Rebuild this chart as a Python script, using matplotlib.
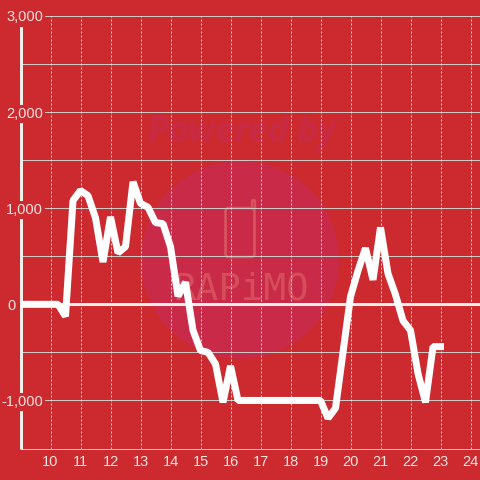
import matplotlib
matplotlib.use("Agg")
import matplotlib.pyplot as plt
from matplotlib.patches import Circle, FancyBboxPatch

hours = [9, 10, 10.25, 10.5, 10.75, 11, 11.25, 11.5, 11.75, 12, 12.25, 12.5, 12.75, 13, 13.25, 13.5,
         13.75, 14, 14.25, 14.5, 14.75, 15, 15.25, 15.5, 15.75, 16, 16.25, 19, 19.25, 19.5, 19.75,
         20, 20.25, 20.5, 20.75, 21, 21.25, 21.5, 21.75, 22, 22.25, 22.5, 22.75, 23]
values = [0, 0, 0, -125, 1080, 1185, 1130, 900, 440, 910, 535, 600, 1275, 1050, 1010, 850,
          840, 600, 85, 230, -270, -480, -500, -620, -1020, -640, -1000, -1000, -1185, -1080, -500,
          80, 350, 585, 255, 800, 320, 100, -170, -270, -720, -1020, -440, -440]
x_ticks = list(range(10, 25))
y_ticks = [-1000, 0, 1000, 2000, 3000]
y_labels = ["-1,000", "0", "1,000", "2,000", "3,000"]
y_grid = [-1000, -500, 0, 500, 1000, 1500, 2000, 2500, 3000]
watermark_top = "Powered by"
watermark_name = "RAPiMO"

BG = "#cc2a2e"
GRID = "#d0c8c4"
TEXT = "#f4e4e2"
PX = 0.72
H = 480

plt.rcParams["font.family"] = ["Liberation Sans", "DejaVu Sans"]
fig = plt.figure(figsize=(4.8, 4.8), dpi=100, facecolor=BG)

# watermark in pixel coordinates, under the axes
wm = "#c92a47"
wm2 = "#d9555f"
fig.add_artist(Circle((240, H - 260), 99, transform=None, fc=wm, ec="none", zorder=0))
fig.text(242 / 480, 1 - 133 / 480, watermark_top, color="#c82a44", fontsize=25, fontweight="bold",
         fontstyle="italic", ha="center", va="center", family="Open Sans", zorder=0)
fig.add_artist(FancyBboxPatch((225.5, H - 257), 29, 49, boxstyle="round,pad=0,rounding_size=3", transform=None,
                              fc="none", ec=wm2, lw=2.6 * PX, zorder=0))
fig.add_artist(FancyBboxPatch((252, H - 209), 3, 9, boxstyle="round,pad=0,rounding_size=1.5", transform=None,
                              fc="none", ec=wm2, lw=2.4 * PX, zorder=0))
fig.text(241 / 480, 1 - 290 / 480, watermark_name, color=wm2, fontsize=27, family="DejaVu Sans Mono",
         ha="center", va="center", zorder=0, alpha=0.85)

ax = fig.add_axes([20.5 / 480, (H - 448.5) / H, (480 - 20.5) / 480, (448.5 - 16) / H])
ax.set_zorder(2)
ax.patch.set_visible(False)
ax.set_xlim(9, 9 + (480 - 20.5) / 30)
ax.set_ylim(-1500, 3000)

for spine in ("top", "right"):
    ax.spines[spine].set_visible(False)
ax.spines["left"].set_color("#f2eeea")
ax.spines["left"].set_linewidth(3 * PX)
ax.spines["left"].set_capstyle("butt")
ax.spines["left"].set_zorder(0.4)
ax.spines["bottom"].set_color(GRID)
ax.spines["bottom"].set_linewidth(1 * PX)
ax.spines["bottom"].set_zorder(0.35)

for v in y_grid:
    ax.axhline(v, color=GRID, lw=1 * PX, zorder=0.3)
for x in x_ticks:
    ax.axvline(x, color="#e8e0dc", lw=1 * PX, ls=(0, (2, 2)), zorder=0.3)

ax.set_axisbelow(True)
ax.axhline(0, color="#f2eeea", lw=3 * PX, zorder=3)
ax.plot(hours, values, color="white", lw=7 * PX, solid_capstyle="projecting", solid_joinstyle="bevel", zorder=4)

ax.set_xticks(x_ticks)
ax.set_xticklabels([str(x) for x in x_ticks])
ax.set_yticks(y_ticks)
ax.set_yticklabels(y_labels)
ax.tick_params(axis="both", length=0, colors=TEXT, labelsize=10.5)
ax.tick_params(axis="x", pad=5.0)
ax.tick_params(axis="y", pad=-16.2)
for tick, lab in zip(ax.yaxis.get_major_ticks(), y_labels):
    if lab == "0":
        tick.set_pad(3.2)
        tick.label1.set_bbox(dict(fc="none", ec="none", pad=0))
    else:
        tick.label1.set_bbox(dict(fc=BG, ec="none", pad=1.5))

fig.savefig("out.png", dpi=100, facecolor=BG)
